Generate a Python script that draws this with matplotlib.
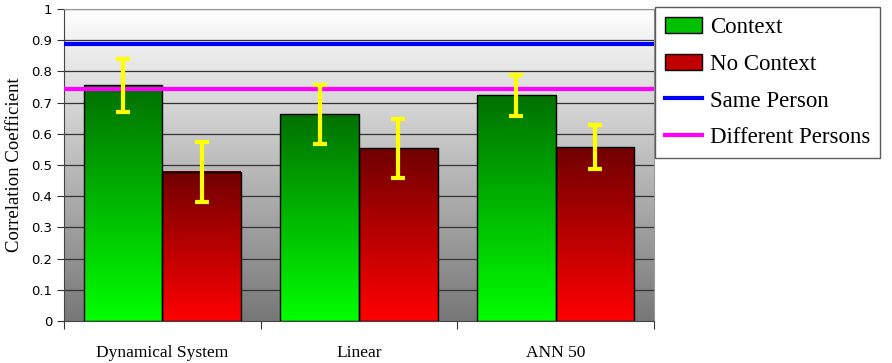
import numpy as np
import matplotlib.pyplot as plt
from matplotlib.patches import Patch
from matplotlib.lines import Line2D
from matplotlib.colors import LinearSegmentedColormap

categories = ["Dynamical System", "Linear", "ANN 50"]
context = [0.755, 0.663, 0.723]
context_err = [0.085, 0.095, 0.065]
no_context = [0.478, 0.553, 0.557]
no_context_err = [0.095, 0.095, 0.07]
same_person = 0.888
diff_persons = 0.745

serif = "Liberation Serif"

fig = plt.figure(figsize=(8.92, 3.63), dpi=100)
ax = fig.add_axes([0.0717, 0.1157, 0.6614, 0.8595])
ax.set_xlim(0, 3)
ax.set_ylim(0, 1)

# background gradient, white at top to grey at bottom
bg = LinearSegmentedColormap.from_list("bg", ["#777777", "#ffffff"])
grad = np.linspace(0, 1, 256).reshape(-1, 1)
ax.imshow(grad, extent=[0, 3, 0, 1], origin="lower", cmap=bg, aspect="auto", zorder=0)

for y in np.arange(0.1, 1.01, 0.1):
    ax.axhline(y, color="#333333", lw=0.9, zorder=1)

green = LinearSegmentedColormap.from_list("g", ["#00ff00", "#007000"])
red = LinearSegmentedColormap.from_list("r", ["#ff0000", "#700000"])

x = np.arange(len(categories)) + 0.5
w = 0.4
b1 = ax.bar(x - w / 2, context, w, facecolor="none", edgecolor="black", lw=1, zorder=3)
b2 = ax.bar(x + w / 2, no_context, w, facecolor="none", edgecolor="black", lw=1, zorder=3)
for bars, cm in [(b1, green), (b2, red)]:
    for r in bars:
        x0, y0 = r.get_x(), r.get_y()
        ax.imshow(grad, extent=[x0, x0 + r.get_width(), y0, y0 + r.get_height()],
                  origin="lower", cmap=cm, aspect="auto", zorder=2)

ax.errorbar(x - w / 2, context, yerr=context_err, fmt="none", ecolor="#ffff00",
            elinewidth=3, capsize=5, capthick=3, zorder=5)
ax.errorbar(x + w / 2, no_context, yerr=no_context_err, fmt="none", ecolor="#ffff00",
            elinewidth=3, capsize=5, capthick=3, zorder=5)

ax.axhline(same_person, color="#0000ff", lw=3, zorder=4)
ax.axhline(diff_persons, color="#ff00ff", lw=3, zorder=4)

ax.set_xlim(0, 3)
ax.set_ylim(0, 1)
ax.set_yticks(np.arange(0, 1.01, 0.1))
ax.set_yticklabels(["0", "0.1", "0.2", "0.3", "0.4", "0.5", "0.6", "0.7", "0.8", "0.9", "1"],
                   fontsize=9.5)
ax.set_xticks([0, 1, 2, 3])
ax.set_xticklabels([])
ax.set_xticks(x, minor=True)
ax.set_xticklabels(categories, minor=True, fontsize=12.5, family=serif)
ax.tick_params(axis="x", which="minor", length=0, pad=17)
ax.tick_params(axis="x", which="major", length=6, color="#333333")
ax.tick_params(axis="y", length=5, color="#333333")
ax.set_ylabel("Correlation Coefficient", fontsize=13.5, family=serif, labelpad=6)
for s in ["left", "bottom"]:
    ax.spines[s].set_color("#444444")
for s in ["top", "right"]:
    ax.spines[s].set_color("#999999")

handles = [
    Patch(facecolor="#00c000", edgecolor="black", label="Context"),
    Patch(facecolor="#c00000", edgecolor="black", label="No Context"),
    Line2D([], [], color="#0000ff", lw=3, label="Same Person"),
    Line2D([], [], color="#ff00ff", lw=3, label="Different Persons"),
]
leg = fig.legend(handles=handles, loc="upper left", bbox_to_anchor=(0.734, 0.981),
                 borderaxespad=0, prop={"family": serif, "size": 16.5}, frameon=True,
                 fancybox=False, edgecolor="#333333", borderpad=0.45, labelspacing=0.68,
                 handlelength=1.6, handletextpad=0.35)
leg.get_frame().set_linewidth(1)

fig.savefig("out.png", dpi=100)
